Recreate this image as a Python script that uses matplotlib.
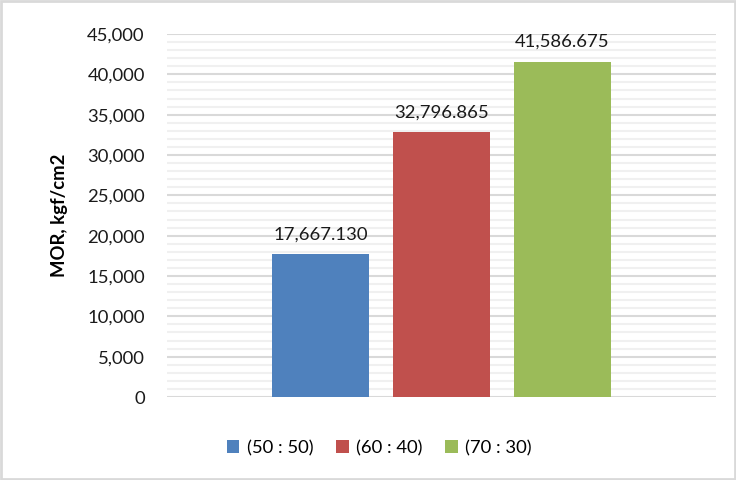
import numpy as np
import matplotlib.pyplot as plt
from matplotlib.ticker import MultipleLocator, FuncFormatter

# modulus of rupture for each mix ratio
labels = ['(50 : 50)', '(60 : 40)', '(70 : 30)']
mor = [17667.130, 32796.865, 41586.675]
colors = ['#4f81bd', '#c0504d', '#9bbb59']

plt.rcParams['font.family'] = ['Lato', 'DejaVu Sans']
fs = 13.3

fig = plt.figure(figsize=(7.36, 4.8), dpi=100)
ax = fig.add_axes([0.2269, 0.1729, 0.7459, 0.7563])

x = np.arange(len(mor))
for i in range(len(mor)):
    ax.bar(x[i], mor[i], width=0.8, color=colors[i], label=labels[i], zorder=3)
    ax.text(x[i], mor[i] + 1500, f'{mor[i]:,.3f}', ha='center', va='bottom',
            fontsize=fs, color='#1a1a1a')

ax.set_xlim(-1.27, 3.27)
ax.set_ylim(0, 45000)
ax.yaxis.set_major_locator(MultipleLocator(5000))
ax.yaxis.set_minor_locator(MultipleLocator(1000))
ax.yaxis.set_major_formatter(FuncFormatter(lambda v, p: f'{v:,.0f}'))
ax.grid(axis='y', which='major', color='#d9d9d9', linewidth=1.5, zorder=0)
ax.grid(axis='y', which='minor', color='#f0f0f0', linewidth=1.5, zorder=0)
ax.set_xticks([])
ax.tick_params(axis='y', which='both', length=0, labelsize=fs, pad=16, labelcolor='#1a1a1a')
for s in ax.spines.values():
    s.set_visible(False)

ax.set_ylabel('MOR, kgf/cm2', fontsize=fs, fontweight='bold')
ax.yaxis.set_label_coords(-0.18, 0.5)

# legend sits under the chart, centred on the figure
fig.legend(loc='upper center', bbox_to_anchor=(0.515, 0.118), ncol=3, frameon=False,
           fontsize=fs, handlelength=0.7, handleheight=0.7, handletextpad=0.4,
           columnspacing=1.2)

# thin light frame round the whole chart
fig.patches.append(plt.Rectangle((0.002, 0.003), 0.996, 0.994, transform=fig.transFigure,
                                 fill=False, edgecolor='#d9d9d9', linewidth=2))

plt.savefig('out.png', dpi=100)
